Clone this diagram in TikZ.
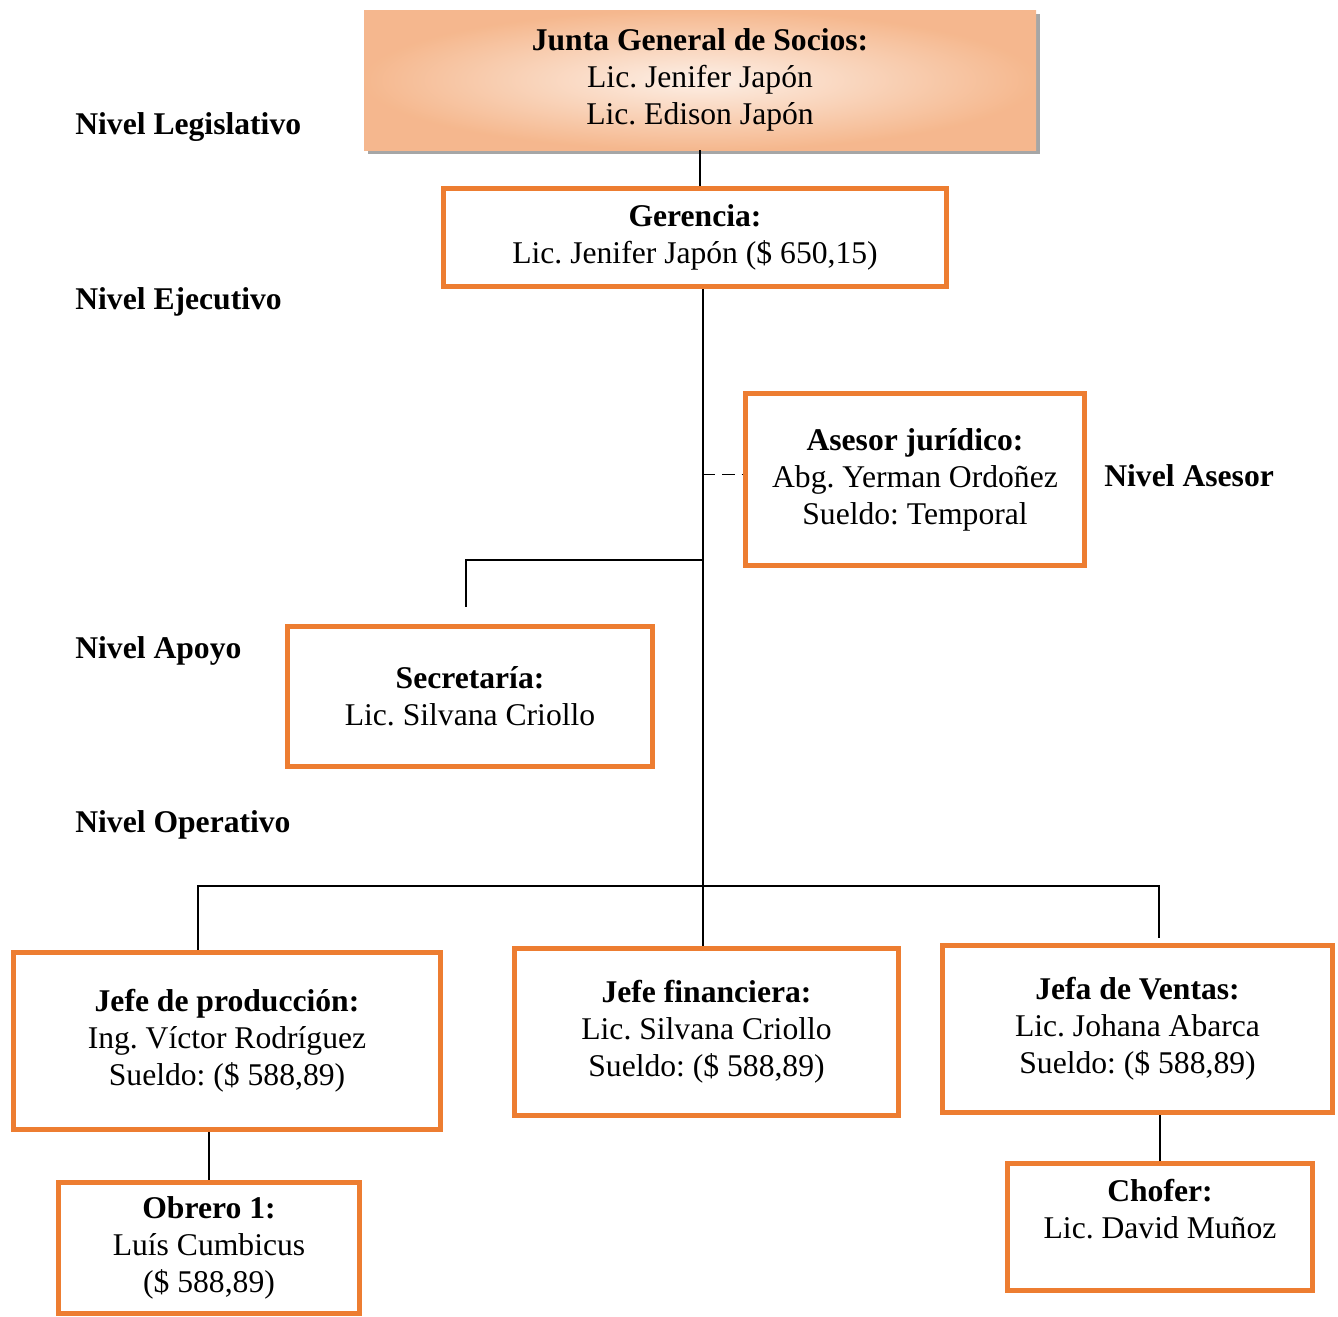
\documentclass[tikz,border=0pt]{standalone}
\usepackage{fontspec}
\setmainfont{Liberation Serif}
\usepackage{xcolor}
\usetikzlibrary{positioning,shadows,calc}
\definecolor{naranja}{HTML}{ED7D31}
\frenchspacing

\begin{document}
\begin{tikzpicture}[x=0.02cm,y=-0.02cm,
  txt/.style={font=\fontsize{18}{21}\selectfont,align=center},
  cargo/.style={txt,draw=naranja,line width=2.8pt,fill=white,inner sep=0pt},
  junta/.style={txt,inner sep=0pt,inner color=naranja!12,outer color=naranja!55,
                drop shadow={shadow xshift=0.07cm,shadow yshift=-0.07cm,fill=gray!70,opacity=1}},
  nivel/.style={font=\fontsize{18}{21}\selectfont\bfseries,anchor=west,inner sep=0pt},
  linea/.style={line width=0.7pt}]
\useasboundingbox (0,0) rectangle (1338,1316);
% cajas
\node[junta,minimum width=672*0.02cm,minimum height=140*0.02cm] (socios) at (700,80)
  {\textbf{Junta General de Socios:}\\Lic. Jenifer Japón\\Lic. Edison Japón};
\node[cargo,minimum width=503*0.02cm,minimum height=98*0.02cm] (gerencia) at (695,237.5)
  {\textbf{Gerencia:}\\Lic. Jenifer Japón (\$ 650,15)};
\node[cargo,minimum width=339*0.02cm,minimum height=172*0.02cm] (asesor) at (915,479.5)
  {\textbf{Asesor jurídico:}\\Abg. Yerman Ordoñez\\Sueldo: Temporal};
\node[cargo,minimum width=365*0.02cm,minimum height=140*0.02cm] (secretaria) at (470,696.5)
  {\textbf{Secretaría:}\\Lic. Silvana Criollo};
\node[cargo,minimum width=427*0.02cm,minimum height=177*0.02cm] (produccion) at (227,1041)
  {\textbf{Jefe de producción:}\\Ing. Víctor Rodríguez\\Sueldo: (\$ 588,89)};
\node[cargo,minimum width=384*0.02cm,minimum height=167*0.02cm] (financiera) at (706.5,1032)
  {\textbf{Jefe financiera:}\\Lic. Silvana Criollo\\Sueldo: (\$ 588,89)};
\node[cargo,minimum width=390*0.02cm,minimum height=167*0.02cm] (ventas) at (1137.5,1029)
  {\textbf{Jefa de Ventas:}\\Lic. Johana Abarca\\Sueldo: (\$ 588,89)};
\node[cargo,minimum width=301*0.02cm,minimum height=131*0.02cm] (obrero) at (209,1248)
  {\textbf{Obrero 1:}\\Luís Cumbicus\\(\$ 588,89)};
\node[cargo,minimum width=305*0.02cm,minimum height=127*0.02cm] (chofer) at (1160,1227)
  {\textbf{Chofer:}\\Lic. David Muñoz\\\mbox{}};
% niveles
\node[nivel] (legislativo) at (75,127) {Nivel Legislativo};
\node[nivel] (ejecutivo) at (75,302) {Nivel Ejecutivo};
\node[nivel] (apoyo) at (75,651) {Nivel Apoyo};
\node[nivel] (operativo) at (75,825) {Nivel Operativo};
\node[nivel] (nasesor) at (1104,476) {Nivel Asesor};
% lineas
\coordinate (tronco) at (703,289);
\coordinate (apoyoRama) at (703,560);
\coordinate (secFin) at (466,607);
\coordinate (opsRama) at (703,886);
\draw[linea] (socios.south) -- (gerencia.north -| socios.south);
\draw[linea] (tronco) -- (financiera.north -| tronco);
\draw[line width=1pt,dash pattern=on 7pt off 4pt] ($(tronco |- asesor.west)+(0,-5)$) -- ($(asesor.west)+(0,-5)$);
\draw[linea] (apoyoRama) -| (secFin);
\draw[linea] (opsRama) -| ($(produccion.north)+(-29,0)$);
\draw[linea] (opsRama) -| ($(ventas.north)+(21.5,-5)$);
\draw[linea] (produccion.south -| obrero.north) -- (obrero.north);
\draw[linea] (ventas.south -| chofer.north) -- (chofer.north);
\end{tikzpicture}
\end{document}
